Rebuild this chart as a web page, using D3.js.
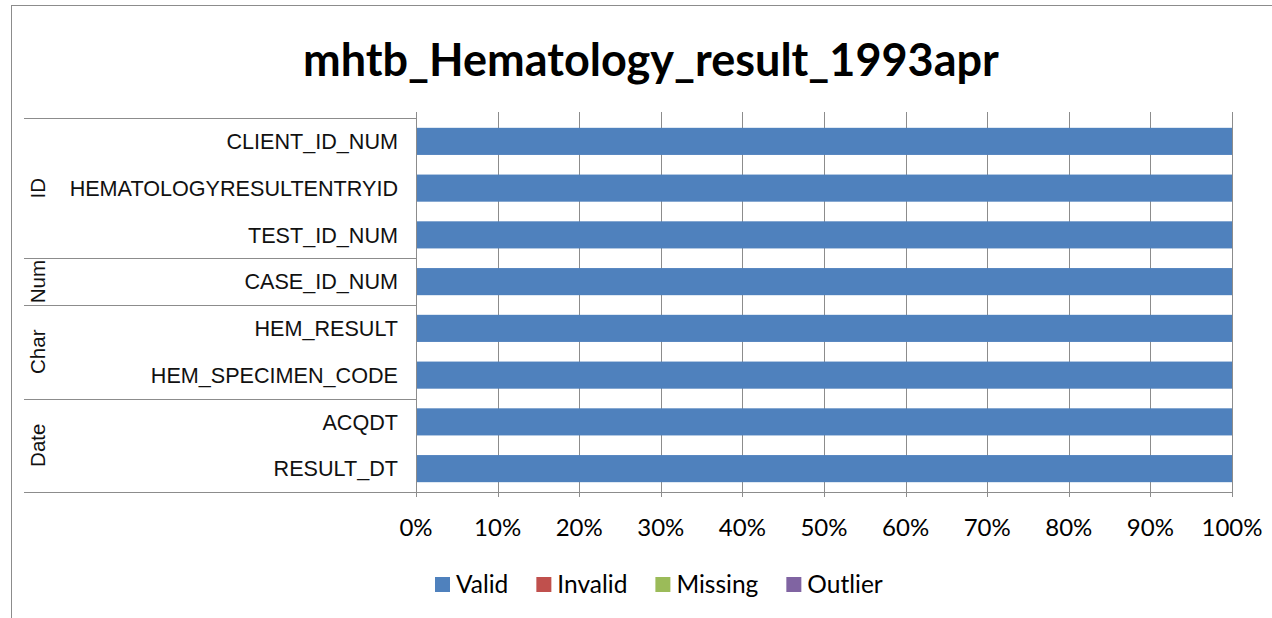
<!DOCTYPE html>
<html>
<head>
<meta charset="utf-8">
<script src="https://cdn.jsdelivr.net/npm/d3@7"></script>
<style>
  body { margin: 0; background: #fff; }
  svg { display: block; }
</style>
</head>
<body>
<div class="bar-chart"></div>
<script>
// DATA ------------------------------------
const fields = ["CLIENT_ID_NUM", "HEMATOLOGYRESULTENTRYID", "TEST_ID_NUM", "CASE_ID_NUM",
                "HEM_RESULT", "HEM_SPECIMEN_CODE", "ACQDT", "RESULT_DT"]
const groups = ["ID", "ID", "ID", "Num", "Char", "Char", "Date", "Date"]
const valid   = [100, 100, 100, 100, 100, 100, 100, 100]
const invalid = [0, 0, 0, 0, 0, 0, 0, 0]
const missing = [0, 0, 0, 0, 0, 0, 0, 0]
const outlier = [0, 0, 0, 0, 0, 0, 0, 0]
const seriesNames = ["Valid", "Invalid", "Missing", "Outlier"]
const seriesColors = ["#4F81BD", "#C0504D", "#9BBB59", "#8064A2"]
const xTicks = [0, 10, 20, 30, 40, 50, 60, 70, 80, 90, 100]

// build table for the stack
const rows = fields.map((f, i) => ({
    field: f, group: groups[i],
    Valid: valid[i], Invalid: invalid[i], Missing: missing[i], Outlier: outlier[i]
}))

// CHART INIT ------------------------------
const W = 1272, H = 618
const plot = {left: 416, right: 1232, top: 118, bottom: 492}
const gridTop = 112
const tickFont = "Lato, 'Open Sans', sans-serif"
const catFont = "'Liberation Sans', Arial, sans-serif"

const svg = d3.select(".bar-chart").append("svg")
    .attr("width", W)
    .attr("height", H)

// outer chart frame
svg.append("rect")
    .attr("x", 11.5).attr("y", 5.5)
    .attr("width", W + 20).attr("height", H - 3)
    .attr("fill", "none")
    .attr("stroke", "#8c8c8c")
    .attr("stroke-width", 1)

// title
svg.append("text")
    .attr("x", 651).attr("y", 76)
    .attr("text-anchor", "middle")
    .style("font-family", tickFont)
    .style("font-weight", "bold")
    .style("font-size", "45px")
    .style("fill", "#000")
    .text("mhtb_Hematology_result_1993apr")

const xScale = d3.scaleLinear()
    .domain([0, 100])
    .range([plot.left, plot.right])

const yScale = d3.scaleBand()
    .domain(fields)
    .range([plot.top, plot.bottom])
    .paddingInner(0.42)
    .paddingOuter(0.21)

// gridlines
svg.append("g")
    .selectAll("line")
    .data(xTicks)
    .join("line")
        .attr("x1", d => Math.round(xScale(d)) + 0.5)
        .attr("x2", d => Math.round(xScale(d)) + 0.5)
        .attr("y1", gridTop)
        .attr("y2", plot.bottom + 5)
        .attr("stroke", "#8c8c8c")
        .attr("stroke-width", 1)

// stacked bars
const stack = d3.stack().keys(seriesNames)
const cScale = d3.scaleOrdinal().domain(seriesNames).range(seriesColors)

svg.append("g")
    .selectAll("g")
    .data(stack(rows))
    .join("g")
        .attr("fill", d => cScale(d.key))
    .selectAll("rect")
    .data(d => d)
    .join("rect")
        .attr("x", d => xScale(d[0]))
        .attr("y", d => yScale(d.data.field))
        .attr("width", d => xScale(d[1]) - xScale(d[0]))
        .attr("height", yScale.bandwidth())

// x axis line
svg.append("line")
    .attr("x1", 24).attr("x2", plot.right + 0.5)
    .attr("y1", plot.bottom + 0.5).attr("y2", plot.bottom + 0.5)
    .attr("stroke", "#8c8c8c")

// x tick labels
svg.append("g")
    .selectAll("text")
    .data(xTicks)
    .join("text")
        .attr("x", d => xScale(d))
        .attr("y", 536)
        .attr("text-anchor", "middle")
        .style("font-family", tickFont)
        .style("font-size", "24px")
        .style("fill", "#000")
        .text(d => d + "%")

// category labels
svg.append("g")
    .selectAll("text")
    .data(fields)
    .join("text")
        .attr("x", 398)
        .attr("y", d => yScale(d) + yScale.bandwidth() / 2)
        .attr("dy", "0.36em")
        .attr("text-anchor", "end")
        .style("font-family", catFont)
        .style("font-size", "21.6px")
        .style("fill", "#111")
        .text(d => d)

// group separators and labels
const groupSpans = []
groups.forEach((g, i) => {
    const last = groupSpans[groupSpans.length - 1]
    if (last && last.name === g) last.end = i
    else groupSpans.push({name: g, start: i, end: i})
})
const step = yScale.step()
const rowTop = i => plot.top + i * step

svg.append("g")
    .selectAll("line")
    .data(groupSpans)
    .join("line")
        .attr("x1", 24).attr("x2", plot.left)
        .attr("y1", d => Math.round(rowTop(d.start)) + 0.5)
        .attr("y2", d => Math.round(rowTop(d.start)) + 0.5)
        .attr("stroke", "#8c8c8c")

svg.append("line")
    .attr("x1", plot.left + 0.5).attr("x2", plot.left + 0.5)
    .attr("y1", gridTop).attr("y2", plot.bottom + 5)
    .attr("stroke", "#8c8c8c")

svg.append("g")
    .selectAll("text")
    .data(groupSpans)
    .join("text")
        .attr("transform", d => {
            const cy = (rowTop(d.start) + rowTop(d.end + 1)) / 2
            return `translate(38,${cy}) rotate(-90)`
        })
        .attr("dy", "0.36em")
        .attr("text-anchor", "middle")
        .style("font-family", catFont)
        .style("font-size", "20.5px")
        .style("fill", "#111")
        .text(d => d.name)

// legend
const legend = svg.append("g").attr("transform", "translate(435,577)")
let lx = 0
seriesNames.forEach((name, i) => {
    const item = legend.append("g").attr("transform", `translate(${lx},0)`)
    item.append("rect")
        .attr("width", 15).attr("height", 15)
        .attr("fill", seriesColors[i])
    const t = item.append("text")
        .attr("x", 21).attr("y", 7.5)
        .attr("dy", "0.36em")
        .style("font-family", tickFont)
        .style("font-size", "24.5px")
        .style("fill", "#000")
        .text(name)
    lx += 21 + t.node().getComputedTextLength() + 28
})
</script>
</body>
</html>
